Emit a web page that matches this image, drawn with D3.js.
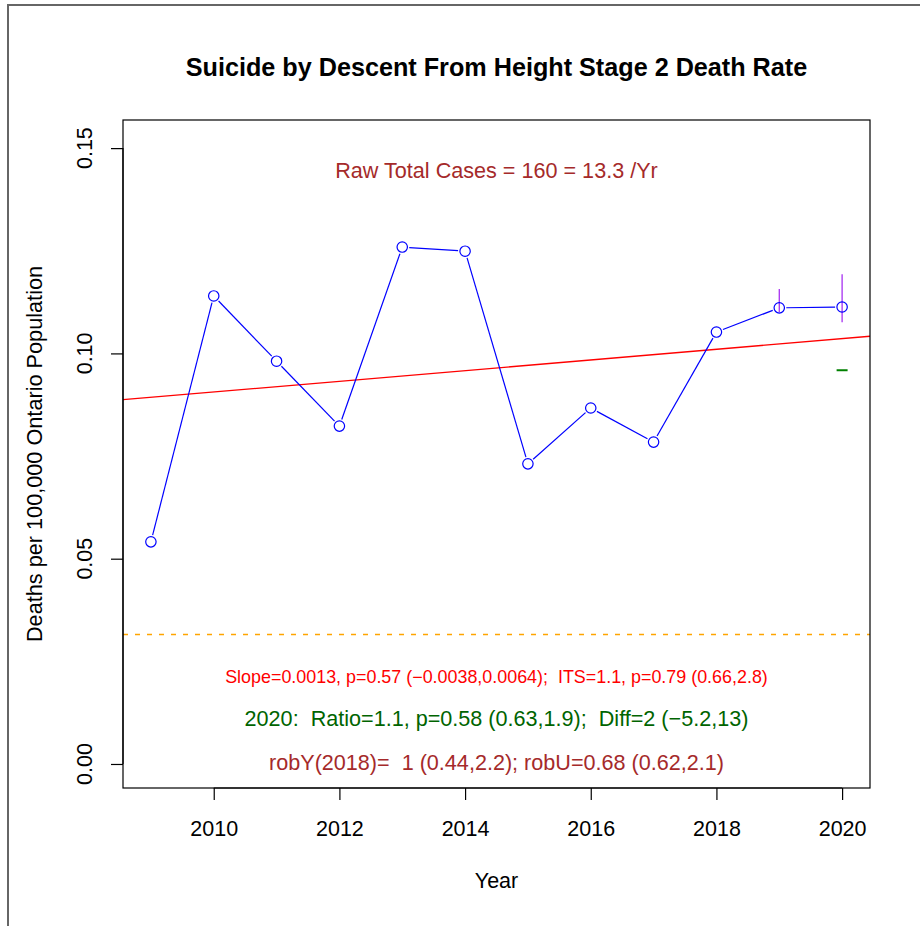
<!DOCTYPE html>
<html><head><meta charset="utf-8">
<script src="https://cdn.jsdelivr.net/npm/d3@7"></script>
<style>body{margin:0;background:#fff}svg{display:block;font-family:"Liberation Sans",Arial,sans-serif}text{white-space:pre}</style>
</head><body>
<svg id="c" width="920" height="926"></svg>
<script>
const years = [2009,2010,2011,2012,2013,2014,2015,2016,2017,2018,2019,2020];
const rates = [0.0541,0.1140,0.0981,0.0823,0.1259,0.1249,0.0731,0.0867,0.0784,0.1052,0.1111,0.1113];
const errYears = [2019,2020];
const errLow = [0.1100,0.1076];
const errHigh = [0.1157,0.1193];
const trendAt2009 = 0.0893;
const trendSlope = 0.0013;
const expected2020 = 0.0959;
const refLine = 0.0317;
const xTicks = [2010,2012,2014,2016,2018,2020];
const yTicks = [0.00,0.05,0.10,0.15];
const title = "Suicide by Descent From Height Stage 2 Death Rate";
const xLabel = "Year";
const yLabel = "Deaths per 100,000 Ontario Population";
const topNote = "Raw Total Cases = 160 = 13.3 /Yr";
const note1 = "Slope=0.0013, p=0.57 (\u22120.0038,0.0064);  ITS=1.1, p=0.79 (0.66,2.8)";
const note2 = "2020:  Ratio=1.1, p=0.58 (0.63,1.9);  Diff=2 (\u22125.2,13)";
const note3 = "robY(2018)=  1 (0.44,2.2); robU=0.68 (0.62,2.1)";

const svg = d3.select("#c");
const L=123, R=870, T=120, B=788;
const x = d3.scaleLinear().domain([2008.556, 2020.444]).range([L,R]);
const y = d3.scaleLinear().domain([-0.00585, 0.15685]).range([B,T]);

// outer frame
svg.append("path").attr("d","M8,926 V5 H920").attr("fill","none").attr("stroke","#666").attr("stroke-width",2);

svg.append("clipPath").attr("id","pc").append("rect").attr("x",L).attr("y",T).attr("width",R-L).attr("height",B-T);
const g = svg.append("g").attr("clip-path","url(#pc)");

// reference line
const yr0 = Math.round(y(refLine))+0.5;
g.append("line").attr("x1",L).attr("x2",R).attr("y1",yr0).attr("y2",yr0)
 .attr("stroke","#FFA500").attr("stroke-width",1.3).attr("stroke-dasharray","5,7");

// trend line
const xd = x.domain();
g.append("line").attr("x1",x(xd[0])).attr("x2",x(xd[1]))
 .attr("y1",y(trendAt2009+trendSlope*(xd[0]-2009))).attr("y2",y(trendAt2009+trendSlope*(xd[1]-2009)))
 .attr("stroke","red").attr("stroke-width",1.3);

// data line with gaps at circles (R type "b")
const pts = years.map((yr,i)=>[x(yr),y(rates[i])]);
const rr = 5.2, gap = 7;
for(let i=0;i<pts.length-1;i++){
  const [x0,y0]=pts[i],[x1,y1]=pts[i+1];
  const dx=x1-x0, dy=y1-y0, len=Math.hypot(dx,dy);
  if(len>2*gap){
    g.append("line").attr("x1",x0+dx/len*gap).attr("y1",y0+dy/len*gap)
     .attr("x2",x1-dx/len*gap).attr("y2",y1-dy/len*gap).attr("stroke","blue").attr("stroke-width",1.2);
  }
}
// error bars
errYears.forEach((yr,i)=>{
  g.append("line").attr("x1",x(yr)).attr("x2",x(yr)).attr("y1",y(errLow[i])).attr("y2",y(errHigh[i]))
   .attr("stroke","#a020f0").attr("stroke-width",1.2);
});
// points
g.selectAll("circle.p").data(years).enter().append("circle")
 .attr("cx",d=>x(d)).attr("cy",(d,i)=>y(rates[i])).attr("r",rr)
 .attr("fill","none").attr("stroke","blue").attr("stroke-width",1.2);
// expected 2020
g.append("line").attr("x1",x(2020)-5.5).attr("x2",x(2020)+5.5).attr("y1",y(expected2020)).attr("y2",y(expected2020))
 .attr("stroke","#008000").attr("stroke-width",2);

// box
svg.append("rect").attr("x",L).attr("y",T).attr("width",R-L).attr("height",B-T).attr("fill","none").attr("stroke","#000").attr("stroke-width",1.2);

// axes
const xa = svg.append("g").attr("transform",`translate(0,${B})`)
 .call(d3.axisBottom(x).tickValues(xTicks).tickSize(12).tickPadding(21).tickFormat(d3.format("d")));
xa.select(".domain").attr("d",`M${x(xTicks[0])},0H${x(xTicks[xTicks.length-1])}`).attr("stroke-width",1.2);
xa.selectAll("text").attr("font-size",21.5).attr("font-family","Liberation Sans, Arial, sans-serif").attr("fill","#000");
xa.selectAll("line").attr("stroke-width",1.2);

const ya = svg.append("g").attr("transform",`translate(${L},0)`)
 .call(d3.axisLeft(y).tickValues(yTicks).tickSize(12).tickFormat(d3.format(".2f")));
ya.select(".domain").attr("d",`M0,${y(yTicks[0])}V${y(yTicks[yTicks.length-1])}`).attr("stroke-width",1.2);
ya.selectAll("line").attr("stroke-width",1.2);
ya.selectAll("text").remove();
yTicks.forEach(t=>{
  svg.append("text").attr("transform",`translate(${L-31},${y(t)}) rotate(-90)`)
   .attr("text-anchor","middle").attr("font-size",21.5).text(d3.format(".2f")(t));
});

// labels
const cx = (L+R)/2;
svg.append("text").attr("x",cx).attr("y",76).attr("text-anchor","middle").attr("font-size",25.2).attr("font-weight","bold").text(title);
svg.append("text").attr("x",cx).attr("y",888).attr("text-anchor","middle").attr("font-size",21.5).text(xLabel);
svg.append("text").attr("transform",`translate(42,${(T+B)/2}) rotate(-90)`).attr("text-anchor","middle").attr("font-size",21.7).text(yLabel);

svg.append("text").attr("x",cx).attr("y",178).attr("text-anchor","middle").attr("font-size",21.6).attr("fill","#a52a2a").text(topNote);
svg.append("text").attr("x",cx).attr("y",683).attr("text-anchor","middle").attr("font-size",17.9).attr("fill","red").text(note1);
svg.append("text").attr("x",cx).attr("y",726).attr("text-anchor","middle").attr("font-size",21.6).attr("fill","#006400").text(note2);
svg.append("text").attr("x",cx).attr("y",770).attr("text-anchor","middle").attr("font-size",21.6).attr("fill","#a52a2a").text(note3);
</script>
</body></html>
